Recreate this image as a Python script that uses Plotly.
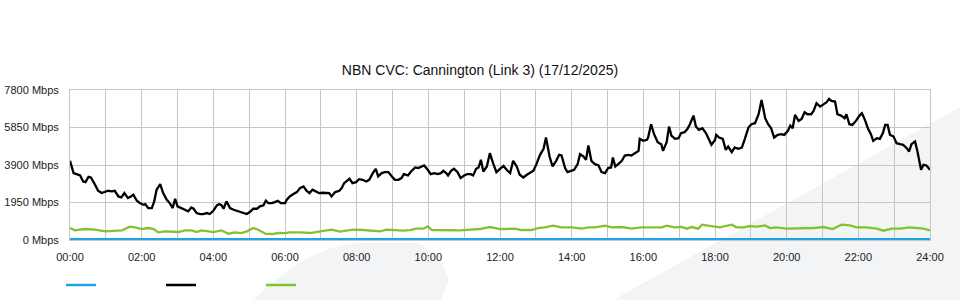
import plotly.graph_objects as go

# ---- data (minutes since 00:00, Mbps) ----
black_min = [0, 6, 11, 17, 22, 26, 31, 35, 42, 47, 53, 59, 64, 70, 75, 81, 86, 91, 97, 102,
             106, 112, 117, 123, 126, 131, 137, 141, 145, 151, 156, 162, 167, 172, 176, 180,
             187, 193, 198, 203, 207, 212, 218, 223, 229, 234, 240, 246, 250, 254, 257, 262,
             268, 274, 279, 285, 290, 296, 301, 307, 313, 318, 324, 328, 332, 338, 343, 348,
             353, 360,
             363, 368, 374, 380, 385, 391, 396, 401, 406, 412, 417, 423, 430, 434, 438, 444,
             451, 455, 459, 464, 468, 473, 479, 484, 490, 496, 501, 507, 512, 516, 522, 527,
             533, 539, 544, 550, 555, 559, 566, 572, 578, 583, 589, 593, 599, 604, 610, 616,
             621, 625, 630, 633, 638, 643, 649, 654, 660, 665, 671, 675, 680, 684, 688, 692,
             698, 703, 709, 714, 720,
             726, 731, 737, 742, 748, 753, 759, 765, 770, 776, 781, 787, 793, 797, 803, 808,
             814, 819, 823, 829, 833, 839, 844, 850, 854, 860, 864, 868, 873, 879, 885, 890,
             896, 901, 906, 909, 913, 918, 924, 929, 935, 940, 946, 952, 954, 960, 966, 968,
             973, 978, 984, 990, 993, 999, 1003, 1007, 1013, 1019, 1023, 1029, 1034, 1038,
             1044, 1048, 1053, 1059, 1065, 1070, 1074, 1080,
             1082, 1087, 1093, 1098, 1102, 1108, 1113, 1119, 1125, 1130, 1136, 1141, 1147,
             1153, 1158, 1164, 1169, 1174, 1179, 1185, 1191, 1196, 1202, 1206, 1210, 1214,
             1220, 1225, 1230, 1235, 1241, 1245, 1250, 1256, 1261, 1267, 1271, 1275, 1281,
             1285, 1291, 1297, 1300, 1305, 1310, 1316, 1322, 1326, 1331, 1336, 1341, 1345,
             1351, 1356, 1361, 1365, 1369, 1373, 1379, 1384, 1390, 1395, 1401, 1405, 1409,
             1415, 1419, 1425, 1429, 1434, 1440]
black_val = [4117, 3477, 3425, 3356, 3045, 3010, 3287, 3252, 2872, 2560, 2440, 2526, 2560, 2526,
             2560, 2266, 2214, 2440, 2180, 2266, 2353, 2041, 1920, 1834, 1868, 1660, 1660, 2007,
             2612, 2906, 2440, 2093, 1920, 1660, 2145, 1747, 1660, 1557, 1488, 1695, 1626, 1401,
             1349, 1349, 1401, 1349, 1522, 1800, 1868, 1800, 1626, 2007, 1660, 1574, 1522, 1453,
             1401, 1349, 1453, 1626, 1626, 1747, 1800, 2041, 1920, 1920, 1972, 2041, 1920, 1920,
             2093, 2266, 2387, 2491, 2699, 2785, 2560, 2440, 2612, 2526, 2440, 2457, 2440, 2440,
             2266, 2491, 2560, 2699, 2958, 3079, 3183, 2958, 3010, 3166, 3131, 3045, 3131, 3477,
             3702, 3304, 3477, 3529, 3529, 3304, 3131, 3131, 3218, 3425, 3356, 3598, 3771, 3737,
             3806, 3875, 3650, 3425, 3477, 3425, 3477, 3598, 3477, 3356, 3598, 3702, 3529, 3218,
             3356, 3425, 3425, 3356, 3702, 3771, 4169, 3564, 3823, 4515, 3944, 3529, 3700,
             3858, 3650, 3477, 4117, 3823, 3391, 3252, 3391, 3477, 3598, 3944, 4429, 4740, 5328,
             4342, 3823, 4117, 4429, 4394, 3737, 3529, 3598, 3650, 3944, 4463, 4342, 4169, 4913,
             4117, 3944, 3875, 3529, 3477, 3737, 3771, 4290, 3823, 3944, 4117, 4394, 4429, 4394,
             4515, 4636, 5259, 5155, 5207, 5328, 6020, 5501, 5086, 4982, 4636, 5086, 5899, 5432,
             5259, 5294, 5553, 5605, 5778, 6020, 6470, 5899, 5726, 5813, 5553, 5207, 4948, 5200,
             5467, 5328, 5259, 4688, 4861, 4567, 4809, 4740, 4809, 5259, 5847, 6020, 6072, 6539,
             7283, 6331, 6020, 5813, 5328, 5467, 5501, 5467, 5674, 5951, 5813, 6505, 6193, 6297,
             6643, 6539, 6539, 6712, 7110, 6937, 7024, 7162, 7335, 7231, 7197, 6539, 6470, 6331,
             6539, 6020, 5986, 6193, 6470, 6591, 6245, 5813, 5501, 5155, 5294, 5259, 5553, 5986,
             5986, 5467, 5380, 5034, 4982, 4948, 4775, 4602, 4982, 5121, 4602, 3650, 3910, 3875,
             3650]

green_min = [0, 8, 25, 42, 59, 75, 87, 100, 109, 120, 131, 140, 148, 159, 170, 181, 193, 204,
             212, 220, 232, 240, 254, 265, 276, 287, 296, 307, 315, 327, 338, 349, 360,
             368, 385, 402, 419, 438, 452, 463, 474, 491, 508, 519, 530, 547, 558, 569, 580,
             592, 599, 606, 620, 636, 653, 670, 686, 703, 720,
             728, 745, 756, 773, 784, 795, 809, 823, 840, 857, 868, 879, 896, 907, 924, 940,
             957, 974, 991, 999, 1013, 1024, 1033, 1041, 1052, 1058, 1069, 1080,
             1088, 1108, 1116, 1127, 1139, 1150, 1164, 1172, 1183, 1200, 1217, 1233, 1245,
             1261, 1277, 1292, 1306, 1317, 1334, 1351, 1362, 1376, 1390, 1406, 1417, 1429, 1440]
green_val = [623, 502, 571, 536, 450, 502, 502, 692, 657, 571, 623, 571, 398, 450, 450, 415, 502,
             502, 415, 502, 450, 415, 502, 329, 398, 363, 450, 623, 536, 329, 311, 363, 360,
             398, 398, 363, 450, 536, 433, 502, 536, 519, 484, 450, 536, 484, 484, 519, 588,
             588, 709, 519, 519, 484, 502, 536, 571, 675, 571,
             571, 588, 519, 519, 623, 657, 744, 657, 657, 588, 657, 657, 744, 657, 675, 588,
             657, 657, 657, 744, 657, 675, 588, 675, 588, 796, 744, 709,
             657, 796, 657, 657, 727, 692, 761, 623, 657, 588, 588, 588, 623,
             675, 571, 796, 761, 657, 657, 588, 484, 588, 588, 657, 623, 588, 502]

blue_min = [0, 60, 120, 180, 240, 300, 360, 420, 480, 540, 600, 660, 720, 780, 840, 900, 960,
            1020, 1080, 1140, 1200, 1260, 1320, 1380, 1440]
blue_val = [40] * 25

x_ticks = [0, 2, 4, 6, 8, 10, 12, 14, 16, 18, 20, 22, 24]
x_labels = ["00:00", "02:00", "04:00", "06:00", "08:00", "10:00", "12:00",
            "14:00", "16:00", "18:00", "20:00", "22:00", "24:00"]
y_ticks = [0, 1950, 3900, 5850, 7800]
y_labels = ["0 Mbps", "1950 Mbps", "3900 Mbps", "5850 Mbps", "7800 Mbps"]

title_text = "NBN CVC: Cannington (Link 3) (17/12/2025)"

FONT = "Liberation Sans, Arial, sans-serif"
GRID = "#c6c6c6"

fig = go.Figure()
fig.add_trace(go.Scatter(x=[m / 60 for m in blue_min], y=blue_val, mode="lines", name=" ",
                         line=dict(color="#1ea3e4", width=2.5)))
fig.add_trace(go.Scatter(x=[m / 60 for m in black_min], y=black_val, mode="lines", name=" ",
                         line=dict(color="#000000", width=2.3)))
fig.add_trace(go.Scatter(x=[m / 60 for m in green_min], y=green_val, mode="lines", name=" ",
                         line=dict(color="#84c12e", width=2.3)))

def px_x(p):
    return (p - 70) / 860.0

def px_y(p):
    return (240.0 - p) / 150.0

shapes = []
# background watermark (decorative)
shapes.append(dict(type="path", xref="paper", yref="paper", layer="below",
                   path=("M {0},{1} L {2},{3} L {2},{4} Z").format(
                       px_x(613), px_y(300), px_x(960), px_y(107), px_y(300)),
                   fillcolor="#f3f4f6", line=dict(width=0)))
shapes.append(dict(type="path", xref="paper", yref="paper", layer="below",
                   path=("M {0},{1} C {2},{3} {4},{5} {6},{7} L {8},{7} "
                         "C {9},{10} {11},{12} {13},{14} L {15},{1} Z").format(
                       px_x(253), px_y(300), px_x(290), px_y(265), px_x(325), px_y(244),
                       px_x(360), px_y(243), px_x(417),
                       px_x(432), px_y(248), px_x(446), px_y(268), px_x(449), px_y(280),
                       px_x(441)),
                   fillcolor="#f3f4f6", line=dict(width=0)))

fig.update_layout(
    width=960, height=300,
    margin=dict(l=70, r=30, t=90, b=60, autoexpand=False),
    paper_bgcolor="white", plot_bgcolor="rgba(0,0,0,0)",
    font=dict(family=FONT, size=11, color="#222222"),
    title=dict(text=title_text, x=0.5, xref="container", xanchor="center",
               y=1 - 70.5 / 300, yref="container", yanchor="middle",
               font=dict(family=FONT, size=14, color="#111111")),
    showlegend=True,
    legend=dict(orientation="h", xref="container", x=61 / 960, xanchor="left",
                yref="container", y=1 - 285 / 300, yanchor="middle",
                entrywidth=55, entrywidthmode="pixels", itemwidth=30,
                font=dict(size=11), bgcolor="rgba(0,0,0,0)"),
    shapes=shapes,
)
fig.update_xaxes(range=[0, 24], tickmode="array", tickvals=x_ticks, ticktext=x_labels,
                 showgrid=True, gridcolor=GRID, gridwidth=1,
                 minor=dict(tickmode="linear", tick0=1, dtick=2, showgrid=True,
                            gridcolor=GRID, gridwidth=1),
                 showline=True, linecolor=GRID, mirror=True, zeroline=False,
                 automargin=False, ticks="", ticklabelstandoff=7,
                 tickfont=dict(size=11, color="#222222"))
fig.update_yaxes(range=[0, 7800], tickmode="array", tickvals=y_ticks, ticktext=y_labels,
                 showgrid=True, gridcolor=GRID, gridwidth=1,
                 showline=True, linecolor=GRID, mirror=True, zeroline=False,
                 automargin=False, ticks="", ticklabelstandoff=8,
                 tickfont=dict(size=11, color="#222222"))

fig.write_html("out.html")
